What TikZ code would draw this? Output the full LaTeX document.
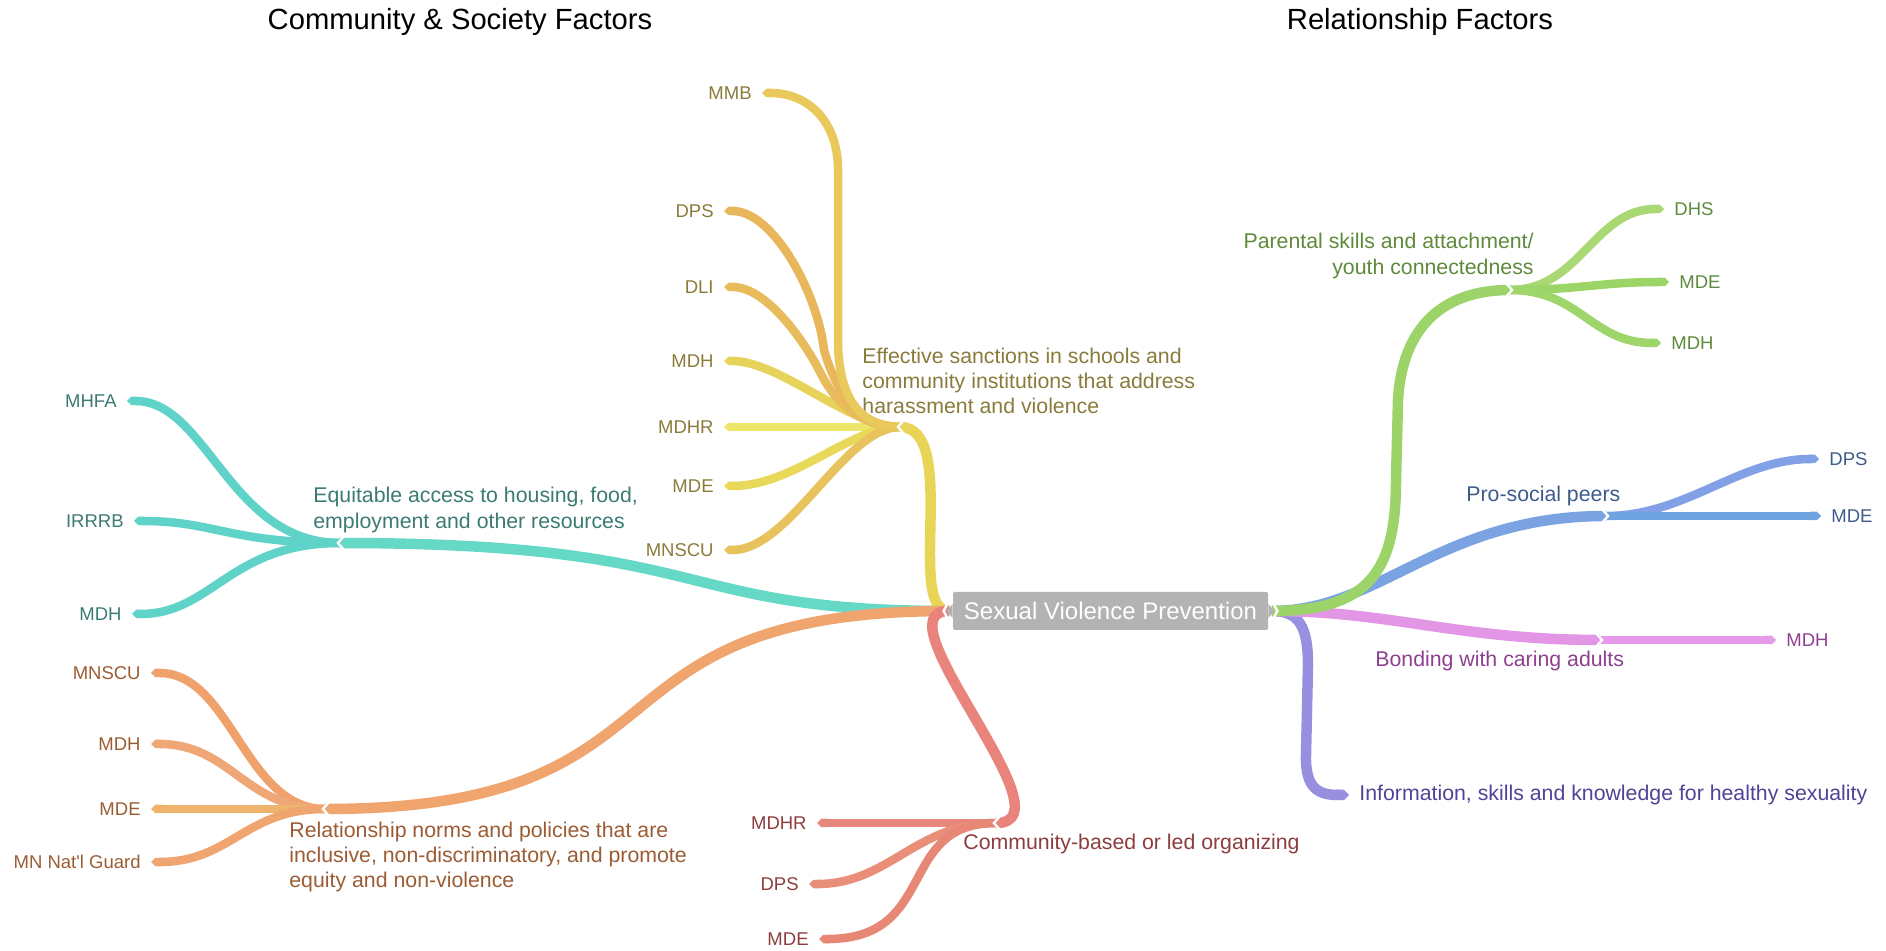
\documentclass[tikz,border=0pt]{standalone}
\usepackage{fontspec}
\setmainfont{Liberation Sans}
\usetikzlibrary{arrows.meta}
\definecolor{yMain}{HTML}{E8D558}
\definecolor{yMMB}{HTML}{E9C95B}
\definecolor{yDPS}{HTML}{E8B75C}
\definecolor{yDLI}{HTML}{E8BB5C}
\definecolor{yMDH}{HTML}{E8D35A}
\definecolor{yMDHR}{HTML}{ECE66A}
\definecolor{yMDE}{HTML}{E8D95A}
\definecolor{yMNS}{HTML}{E8C25C}
\definecolor{yTxt}{HTML}{8A7B3B}
\definecolor{tMain}{HTML}{65D8C6}
\definecolor{tLeaf}{HTML}{5FD3C8}
\definecolor{tTxt}{HTML}{3B7B72}
\definecolor{oMain}{HTML}{F0A56F}
\definecolor{oMNS}{HTML}{EFA26C}
\definecolor{oMDH}{HTML}{EFA777}
\definecolor{oMDE}{HTML}{EEB46E}
\definecolor{oNG}{HTML}{F0A470}
\definecolor{oTxt}{HTML}{9B5C33}
\definecolor{rMain}{HTML}{E8847C}
\definecolor{rMDHR}{HTML}{E8887C}
\definecolor{rDPS}{HTML}{E98F79}
\definecolor{rMDE}{HTML}{E78877}
\definecolor{rTxt}{HTML}{8E3D3D}
\definecolor{gMain}{HTML}{9DD46A}
\definecolor{gDHS}{HTML}{A9D874}
\definecolor{gMDE}{HTML}{9CD567}
\definecolor{gMDH}{HTML}{9ED66B}
\definecolor{gTxt}{HTML}{5E8A3B}
\definecolor{bMain}{HTML}{7BA3E2}
\definecolor{bDPS}{HTML}{82A0E6}
\definecolor{bMDE}{HTML}{6FA4E0}
\definecolor{bTxt}{HTML}{3E5B8B}
\definecolor{pMain}{HTML}{E396E6}
\definecolor{pLeaf}{HTML}{E69AE8}
\definecolor{pTxt}{HTML}{8D3F90}
\definecolor{vMain}{HTML}{998FE1}
\definecolor{vTxt}{HTML}{4E4497}
\definecolor{boxgray}{HTML}{B3B3B3}
\begin{document}
\begin{tikzpicture}[x=0.5pt,y=-0.5pt,
  br/.style={line width=5.25pt},
  lf/.style={line width=4.25pt,-{Triangle Cap}},
  notch/.style={draw=white,line width=1.2pt,line join=miter},
  lbl/.style={inner sep=0pt,font=\fontsize{10.65pt}{12.6pt}\selectfont},
  leaf/.style={inner sep=0pt,font=\fontsize{9.25pt}{11pt}\selectfont},
  ttl/.style={inner sep=0pt,font=\fontsize{14.6pt}{17pt}\selectfont},
  rootbox/.style={fill=boxgray,rounded corners=1pt,minimum width=157.5pt,minimum height=19pt,inner sep=0pt,text=white,font=\fontsize{12pt}{14pt}\selectfont}]
\useasboundingbox (0,0) rectangle (1886,951);

% titles
\node[ttl] (tcs) at (460,22) {Community \& Society Factors};
\node[ttl] (trel) at (1420,22) {Relationship Factors};

% anchor coordinates
\coordinate (rl) at (949,611);
\coordinate (rr) at (1272,611);
\coordinate (jy) at (900,427);
\coordinate (jt) at (340,543);
\coordinate (jo) at (325,809);
\coordinate (jr) at (996,823);
\coordinate (jg) at (1510,290);
\coordinate (jb) at (1606,516);
\coordinate (jp) at (1600,640);

% main labels
\node[lbl,text=yTxt,anchor=west,align=left] (ly) at (862,381) {Effective sanctions in schools and\\community institutions that address\\harassment and violence};
\node[lbl,text=tTxt,anchor=west,align=left] (lt) at (313,510) {Equitable access to housing, food,\\employment and other resources};
\node[lbl,text=oTxt,anchor=west,align=left] (lo) at (289,857) {Relationship norms and policies that are\\inclusive, non-discriminatory, and promote\\equity and non-violence};
\node[lbl,text=rTxt,anchor=west] (lr) at (963,844) {Community-based or led organizing};
\node[lbl,text=gTxt,anchor=east,align=right] (lg) at (1534,256) {Parental skills and attachment/\\youth connectedness};
\node[lbl,text=bTxt,anchor=west] (lb) at (1466,496) {Pro-social peers};
\node[lbl,text=pTxt,anchor=west] (lp) at (1375,661) {Bonding with caring adults};
\node[lbl,text=vTxt,anchor=west] (vi) at (1359,795) {Information, skills and knowledge for healthy sexuality};

% leaf labels
\node[leaf,text=yTxt,anchor=east] (y1) at (752,93) {MMB};
\node[leaf,text=yTxt,anchor=east] (y2) at (714,211) {DPS};
\node[leaf,text=yTxt,anchor=east] (y3) at (714,287) {DLI};
\node[leaf,text=yTxt,anchor=east] (y4) at (714,361) {MDH};
\node[leaf,text=yTxt,anchor=east] (y5) at (714,427) {MDHR};
\node[leaf,text=yTxt,anchor=east] (y6) at (714,486) {MDE};
\node[leaf,text=yTxt,anchor=east] (y7) at (714,550) {MNSCU};
\node[leaf,text=tTxt,anchor=east] (t1) at (117,401) {MHFA};
\node[leaf,text=tTxt,anchor=east] (t2) at (124,521) {IRRRB};
\node[leaf,text=tTxt,anchor=east] (t3) at (122,614) {MDH};
\node[leaf,text=oTxt,anchor=east] (o1) at (141,673) {MNSCU};
\node[leaf,text=oTxt,anchor=east] (o2) at (141,744) {MDH};
\node[leaf,text=oTxt,anchor=east] (o3) at (141,809) {MDE};
\node[leaf,text=oTxt,anchor=east] (o4) at (141,862) {MN Nat\textquotesingle l Guard};
\node[leaf,text=rTxt,anchor=east] (r1) at (807,823) {MDHR};
\node[leaf,text=rTxt,anchor=east] (r2) at (799,884) {DPS};
\node[leaf,text=rTxt,anchor=east] (r3) at (809,939) {MDE};
\node[leaf,text=gTxt,anchor=west] (g1) at (1674,209) {DHS};
\node[leaf,text=gTxt,anchor=west] (g2) at (1679,282) {MDE};
\node[leaf,text=gTxt,anchor=west] (g3) at (1671,343) {MDH};
\node[leaf,text=bTxt,anchor=west] (b1) at (1829,459) {DPS};
\node[leaf,text=bTxt,anchor=west] (b2) at (1831,516) {MDE};
\node[leaf,text=pTxt,anchor=west] (p1) at (1786,640) {MDH};

% main branches, left
\draw[br,draw=tMain] (rl) .. controls +(-280,0) and +(380,0) .. (jt);
\draw[br,draw=yMain] (rl) .. controls (905,611) and (960,427) .. (jy);
\draw[br,draw=oMain] (rl) .. controls +(-380,0) and +(380,0) .. (jo);
\draw[br,draw=rMain] (rl) .. controls (875,611) and (1075,823) .. (jr);
% main branches, right
\draw[br,draw=vMain,-{Triangle Cap}] (rr) .. controls (1298,611) and (1308,625) .. (1308,665) -- (1306,755) .. controls (1305,790) and (1320,795) .. ([xshift=-5pt]vi.west);
\draw[br,draw=pMain] (rr) .. controls (1390,611) and (1460,640) .. (jp);
\draw[br,draw=bMain] (rr) .. controls (1380,611) and (1440,516) .. (jb);
\draw[br,draw=gMain] (rr) .. controls (1370,611) and (1396,570) .. (1396,480) -- (1398,400) .. controls (1402,330) and (1440,290) .. (jg);

% yellow leaves
\draw[lf,draw=yMDHR] (jy) -- ([xshift=5pt]y5.east);
\draw[lf,draw=yMDE] (jy) .. controls +(-50,0) and +(70,0) .. ([xshift=5pt]y6.east);
\draw[lf,draw=yMNS] (jy) .. controls +(-55,0) and +(66,0) .. ([xshift=5pt]y7.east);
\draw[lf,draw=yMDH] (jy) .. controls +(-50,0) and +(56,0) .. ([xshift=5pt]y4.east);
\draw[lf,draw=yDLI] (jy) .. controls +(-45,0) and +(12,24) .. (820,372) .. controls +(-12,-24) and +(45,0) .. ([xshift=5pt]y3.east);
\draw[lf,draw=yDPS] (jy) .. controls +(-45,0) and +(10,35) .. (824,350) .. controls +(-6,-55) and +(50,0) .. ([xshift=5pt]y2.east);
\draw[lf,draw=yMMB] (jy) .. controls +(-45,0) and +(0,50) .. (838,340) -- (838,170) .. controls +(0,-50) and +(45,0) .. ([xshift=5pt]y1.east);
% teal leaves
\draw[lf,draw=tLeaf] (jt) .. controls +(-110,0) and +(80,0) .. ([xshift=5pt]t1.east);
\draw[lf,draw=tLeaf] (jt) .. controls +(-110,0) and +(80,0) .. ([xshift=5pt]t2.east);
\draw[lf,draw=tLeaf] (jt) .. controls +(-110,0) and +(80,0) .. ([xshift=5pt]t3.east);
% orange leaves
\draw[lf,draw=oMNS] (jo) .. controls +(-80,0) and +(80,0) .. ([xshift=5pt]o1.east);
\draw[lf,draw=oMDH] (jo) .. controls +(-80,0) and +(80,0) .. ([xshift=5pt]o2.east);
\draw[lf,draw=oMDE] (jo) -- ([xshift=5pt]o3.east);
\draw[lf,draw=oNG] (jo) .. controls +(-80,0) and +(80,0) .. ([xshift=5pt]o4.east);
% red leaves
\draw[lf,draw=rMDHR] (jr) -- ([xshift=5pt]r1.east);
\draw[lf,draw=rDPS] (jr) .. controls +(-80,0) and +(80,0) .. ([xshift=5pt]r2.east);
\draw[lf,draw=rMDE] (jr) .. controls +(-100,0) and +(120,0) .. ([xshift=5pt]r3.east);
% green leaves
\draw[lf,draw=gDHS] (jg) .. controls +(70,0) and +(-70,0) .. ([xshift=-5pt]g1.west);
\draw[lf,draw=gMDE] (jg) .. controls +(70,0) and +(-70,0) .. ([xshift=-5pt]g2.west);
\draw[lf,draw=gMDH] (jg) .. controls +(70,0) and +(-70,0) .. ([xshift=-5pt]g3.west);
% blue leaves
\draw[lf,draw=bDPS] (jb) .. controls +(80,0) and +(-80,0) .. ([xshift=-5pt]b1.west);
\draw[lf,draw=bMDE] (jb) -- ([xshift=-5pt]b2.west);
% pink leaf
\draw[lf,draw=pLeaf] (jp) -- ([xshift=-5pt]p1.west);

% junction notches
\foreach \j in {jy,jt,jo,jr}{\draw[notch] (\j) +(4,-7) -- +(-2,0) -- +(4,7);}
\foreach \j in {jg,jb,jp}{\draw[notch] (\j) +(-4,-7) -- +(2,0) -- +(-4,7);}

% root
\node[rootbox] (root) at (1110.5,611) {Sexual Violence Prevention};
\fill[boxgray] (root.west) +(0,-7) -- +(-6,0) -- +(0,7) -- cycle;
\fill[boxgray] (root.east) +(0,-7) -- +(6,0) -- +(0,7) -- cycle;
\draw[notch] (root.west) +(-3,-11) -- +(-9,0) -- +(-3,11);
\draw[notch] (root.east) +(3,-11) -- +(9,0) -- +(3,11);
\end{tikzpicture}
\end{document}
